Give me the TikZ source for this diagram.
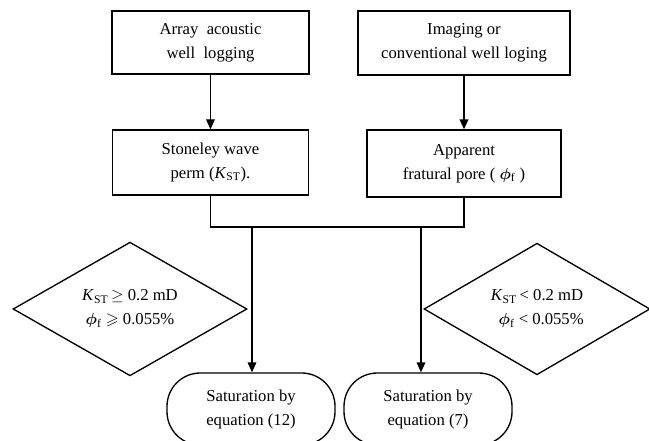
\documentclass[tikz,border=0pt]{standalone}
\usepackage{amsmath,amssymb,bm}
\usepackage{fontspec}
\setmainfont{Liberation Serif}
\usetikzlibrary{shapes.geometric,arrows.meta}

\begin{document}
\begin{tikzpicture}[x=0.75pt,y=-0.75pt,
  every node/.style={font=\fontsize{12.5}{18}\selectfont,align=center,inner sep=0pt},
  box/.style={draw,line width=1pt},
  cond/.style={draw,diamond,line width=1pt,minimum height=93pt},
  result/.style={draw,rounded corners=25pt,line width=1pt,minimum width=126pt,minimum height=54pt},
  arr/.style={line width=1pt,-{Triangle[length=7.5pt,width=6.5pt]}}]
\useasboundingbox (0,0) rectangle (649,441);

\def\xleft{210.5};
\def\xright{464};
\def\ybus{227};

\node[box,minimum width=147.75pt,minimum height=47.25pt] (array) at (\xleft,42.5) {Array~~acoustic\\well~~logging};
\node[box,minimum width=159pt,minimum height=48pt] (imaging) at (\xright,43) {Imaging or\\conventional well loging};

\node[box,minimum width=147pt,minimum height=48.75pt] (stoneley) at (\xleft,162.5) {Stoneley wave\\perm (\textit{K}\textsubscript{ST}).};
\node[box,minimum width=145.5pt,minimum height=50.25pt] (pore) at (\xright,163.5) {Apparent\\fratural pore ( $\bm{\phi}_{\mathrm{f}}$ )};

\draw[arr] (array) -- (stoneley);
\draw[arr] (imaging) -- (pore);

\coordinate (bus) at (0,\ybus);
\draw[line width=1pt] (stoneley.south) -- (stoneley.south |- bus) -- (pore.south |- bus) -- (pore.south);

\node[cond,minimum width=175.5pt] (highk) at (130,309) {\textit{K}\textsubscript{ST}\,$\geq$ 0.2 mD\\$\bm{\phi}_{\mathrm{f}}$ $\geqslant$ 0.055\%};
\node[cond,minimum width=169.5pt] (lowk) at (537,309) {\textit{K}\textsubscript{ST}\,< 0.2 mD\\~~$\bm{\phi}_{\mathrm{f}}$ < 0.055\%};

\node[result] (eqtwelve) at (251,409) {Saturation by\\equation (12)};
\node[result] (eqseven) at (428,409) {Saturation by\\equation (7)};

\coordinate (dropl) at (252,\ybus);
\coordinate (dropr) at (421,\ybus);
\draw[arr] (dropl) -- (dropl |- eqtwelve.north);
\draw[arr] (dropr) -- (dropr |- eqseven.north);

\end{tikzpicture}
\end{document}
